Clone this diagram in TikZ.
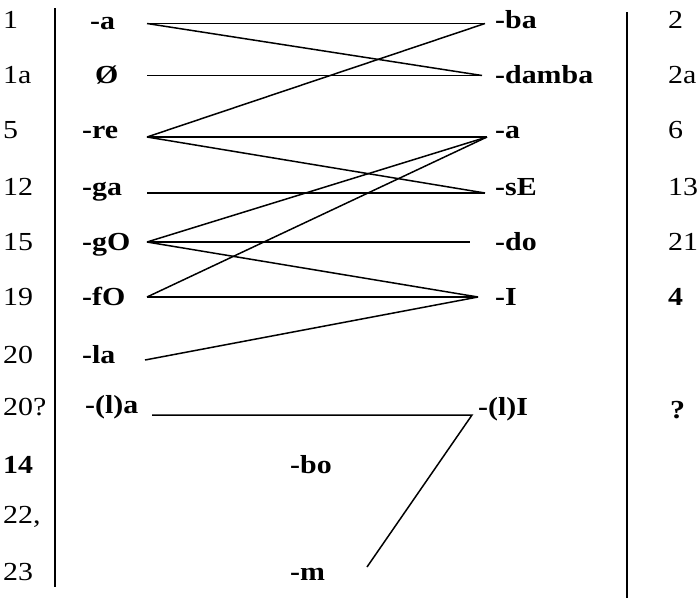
\documentclass[tikz,border=0pt]{standalone}
\usepackage{fontspec}
\setmainfont{Liberation Serif}[FakeStretch=1.15]
\begin{document}
\begin{tikzpicture}[x=1pt,y=-1pt,
  every node/.style={inner sep=0pt, anchor=base west, font=\fontsize{26}{30}\selectfont},
  lab/.style={font=\fontsize{26}{30}\selectfont\bfseries},
  ln/.style={line width=1.5pt, line join=miter}]
\useasboundingbox (0,0) rectangle (699,598);
% column rules
\draw[ln] (55,8) -- (55,587);
\draw[ln] (627,12) -- (627,598);
% left numbers
\node (n1) at (3,28) {1};
\node (n1a) at (3,83) {1a};
\node (n5) at (3,138) {5};
\node (n12) at (3,195) {12};
\node (n15) at (3,250) {15};
\node (n19) at (3,305) {19};
\node (n20) at (3,363) {20};
\node (n20q) at (3,415) {20?};
\node[lab] (n14) at (3,473) {14};
\node (n22) at (3,523) {22,};
\node (n23) at (3,580) {23};
% left labels
\node[lab] (la) at (90,29) {-a};
\node[lab] (lO) at (95,83) {Ø};
\node[lab] (lre) at (82,138) {-re};
\node[lab] (lga) at (82,195) {-ga};
\node[lab] (lgO) at (82,250) {-gO};
\node[lab] (lfO) at (82,305) {-fO};
\node[lab] (lla) at (82,363) {-la};
\node[lab] (llla) at (85,413) {-(l)a};
% right labels
\node[lab] (rba) at (495,28) {-ba};
\node[lab] (rdamba) at (495,83) {-damba};
\node[lab] (ra) at (495,138) {-a};
\node[lab] (rsE) at (495,195) {-sE};
\node[lab] (rdo) at (495,250) {-do};
\node[lab] (rI) at (495,305) {-I};
\node[lab] (rlI) at (478,415) {-(l)I};
% right numbers
\node (m2) at (668,28) {2};
\node (m2a) at (668,83) {2a};
\node (m6) at (668,138) {6};
\node (m13) at (668,195) {13};
\node (m21) at (668,250) {21};
\node[lab] (m4) at (668,305) {4};
\node[lab] (mq) at (670,418) {?};
% middle labels
\node[lab] (bo) at (290,473) {-bo};
\node[lab] (mm) at (290,580) {-m};
% connector ends
\coordinate (L1) at (147,23.5);
\coordinate (L1a) at (147,75.5);
\coordinate (L5) at (147,137);
\coordinate (L12) at (147,193);
\coordinate (L15) at (147,242);
\coordinate (L19) at (147,297);
\coordinate (L20) at (145,360);
\coordinate (L20q) at (152,415);
\coordinate (R2) at (485,23.5);
\coordinate (R2a) at (482,75.5);
\coordinate (R6) at (487,137);
\coordinate (R13) at (485,193);
\coordinate (R21) at (470,242);
\coordinate (R4) at (478,297);
\coordinate (Rq) at (472,415);
\coordinate (Rm) at (367,567);
% connectors
\draw[ln] (L1) -- (R2);
\draw[ln] (L1) -- (R2a);
\draw[ln] (L1a) -- (R2a);
\draw[ln] (L5) -- (R2);
\draw[ln] (L5) -- (R6);
\draw[ln] (L5) -- (R13);
\draw[ln] (L12) -- (R13);
\draw[ln] (L15) -- (R6);
\draw[ln] (L15) -- (R21);
\draw[ln] (L15) -- (R4);
\draw[ln] (L19) -- (R6);
\draw[ln] (L19) -- (R4);
\draw[ln] (L20) -- (R4);
\draw[ln] (L20q) -- (Rq) -- (Rm);
\end{tikzpicture}
\end{document}
